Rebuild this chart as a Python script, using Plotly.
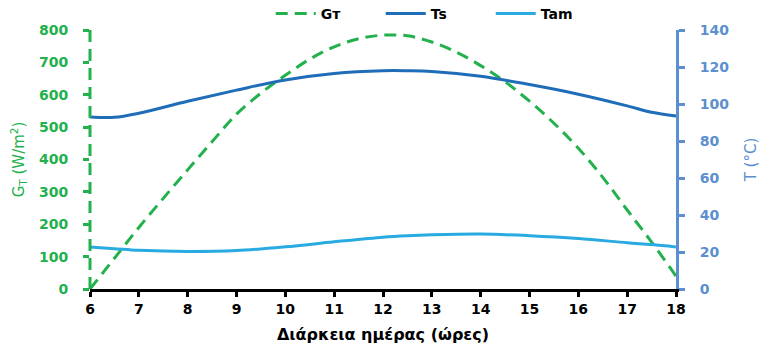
import plotly.graph_objects as go

hours = [6, 6.5, 7, 7.5, 8, 8.5, 9, 9.5, 10, 10.5, 11, 11.5, 12, 12.5, 13, 13.5, 14, 14.5, 15, 15.5, 16, 16.5, 17, 17.5, 18]
gt = [0, 95, 190, 280, 368, 455, 540, 605, 660, 710, 748, 773, 784, 782, 763, 732, 690, 640, 580, 512, 435, 345, 244, 145, 40]

t_hours = [6, 6.5, 7, 8, 9, 10, 11, 12, 12.5, 13, 14, 15, 16, 17, 17.5, 18]
ts = [93, 92.8, 95, 101.5, 107.5, 113, 116.5, 118, 118, 117.6, 115, 110.5, 105.3, 99, 95.5, 93.5]
tam = [22.7, 21.8, 20.9, 20.3, 20.8, 22.8, 25.5, 28, 28.8, 29.3, 29.7, 28.8, 27.3, 25, 24, 22.7]

xticks = list(range(6, 19))
gt_ticks = [0, 100, 200, 300, 400, 500, 600, 700, 800]
t_ticks = [0, 20, 40, 60, 80, 100, 120, 140]

GREEN = "#22b14c"
BLUE_AX = "#5b8fd0"
TS_C = "#1f6db8"
TAM_C = "#29abe2"
FONT = "DejaVu Sans"

fig = go.Figure()
fig.add_trace(go.Scatter(x=hours, y=gt, name="Gт", mode="lines", line=dict(color=GREEN, width=3, dash="12px,7px", shape="spline"), yaxis="y"))
fig.add_trace(go.Scatter(x=t_hours, y=ts, name="Ts", mode="lines", line=dict(color=TS_C, width=3, shape="spline"), yaxis="y2"))
fig.add_trace(go.Scatter(x=t_hours, y=tam, name="Tam", mode="lines", line=dict(color=TAM_C, width=3, shape="spline"), yaxis="y2"))

fig.update_layout(
    width=761, height=348,
    margin=dict(l=90, r=85, t=30, b=59, autoexpand=False),
    paper_bgcolor="white", plot_bgcolor="white",
    font=dict(family=FONT, size=13, color="black"),
    showlegend=True,
    legend=dict(orientation="h", x=0.59, xanchor="center", y=1.0, yanchor="bottom",
                font=dict(family=FONT, size=14, color="black", weight="bold"),
                itemwidth=40, entrywidth=55, entrywidthmode="pixels",
                bgcolor="rgba(0,0,0,0)"),
    xaxis=dict(range=[6, 18], tickvals=xticks, showgrid=False, zeroline=False,
               showline=True, linecolor="black", linewidth=3,
               ticks="outside", ticklen=5, tickwidth=3, tickcolor="black",
               tickfont=dict(family=FONT, size=14, color="black", weight="bold"),
               title=dict(text="Διάρκεια ημέρας (ώρες)", font=dict(family=FONT, size=16, color="black", weight="bold"), standoff=14)),
    yaxis=dict(range=[0, 800], tickvals=gt_ticks, showgrid=False, zeroline=False,
               showline=False,
               ticks="outside", ticklen=6, tickwidth=3, tickcolor=GREEN,
               ticklabelstandoff=12,
               tickfont=dict(family=FONT, size=14, color=GREEN, weight="bold"),
               title=dict(text="G<sub>T</sub> (W/m<sup>2</sup>)", font=dict(family=FONT, size=15, color=GREEN), standoff=10)),
    yaxis2=dict(range=[0, 140], tickvals=t_ticks, overlaying="y", side="right",
                showgrid=False, zeroline=False,
                showline=True, linecolor=BLUE_AX, linewidth=3,
                ticks="outside", ticklen=6, tickwidth=3, tickcolor=BLUE_AX,
                ticklabelstandoff=12,
                tickfont=dict(family=FONT, size=14, color=BLUE_AX, weight="bold"),
                title=dict(text="T (°C)", font=dict(family=FONT, size=15, color=BLUE_AX), standoff=18)),
    shapes=[dict(type="line", xref="paper", yref="paper", x0=0, x1=0, y0=0, y1=1,
                 line=dict(color=GREEN, width=3, dash="12px,7px"), layer="above")],
)

fig.write_html("out.html")
